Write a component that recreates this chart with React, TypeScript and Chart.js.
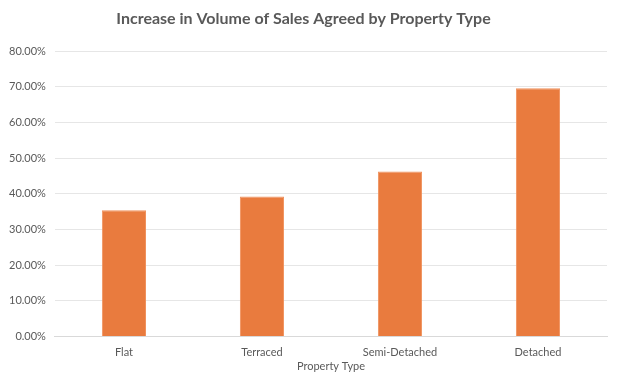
import React, { useEffect, useRef } from "react";
import { Chart, registerables } from "chart.js";

Chart.register(...registerables);

const categories = ["Flat", "Terraced", "Semi-Detached", "Detached"];
const values = [35.4, 39.3, 46.3, 69.6];
const titleText = "Increase in Volume of Sales Agreed by Property Type";
const xTitle = "Property Type";

const FONT = "Lato";

export default function App() {
  const ref = useRef<HTMLCanvasElement>(null);
  useEffect(() => {
    document.body.style.margin = "0";
    const chart = new Chart(ref.current!, {
      type: "bar",
      data: {
        labels: categories,
        datasets: [
          {
            data: values,
            backgroundColor: "#E97B3E",
            borderColor: "#F0925E",
            borderWidth: { left: 1, right: 1, top: 1, bottom: 0 },
            barPercentage: 0.32,
            categoryPercentage: 1,
          },
        ],
      },
      options: {
        animation: false,
        responsive: false,
        maintainAspectRatio: false,
        layout: { padding: { left: 0, right: 12, top: 9, bottom: 15 } },
        plugins: {
          legend: { display: false },
          tooltip: { enabled: false },
          title: {
            display: true,
            text: titleText,
            color: "#595959",
            font: { family: FONT, size: 16, weight: "bold" },
            padding: { top: 0, bottom: 23 },
          },
        },
        scales: {
          x: {
            grid: { display: false },
            border: { display: true, color: "#D9D9D9", width: 1 },
            ticks: { color: "#595959", font: { family: FONT, size: 11 }, padding: 1 },
            title: {
              display: true,
              text: xTitle,
              color: "#595959",
              font: { family: FONT, size: 11 },
              padding: { top: 0, bottom: 0 },
            },
          },
          y: {
            min: 0,
            max: 80,
            grid: { color: "#E6E6E6", drawTicks: false },
            border: { display: false },
            ticks: {
              stepSize: 10,
              color: "#595959",
              font: { family: FONT, size: 11 },
              padding: 9,
              callback: (v: any) => Number(v).toFixed(2) + "%",
            },
          },
        },
      },
    });
    return () => chart.destroy();
  }, []);
  return (
    <div style={{ width: 619, height: 388 }}>
      <canvas ref={ref} width={619} height={388} style={{ display: "block" }} />
    </div>
  );
}
